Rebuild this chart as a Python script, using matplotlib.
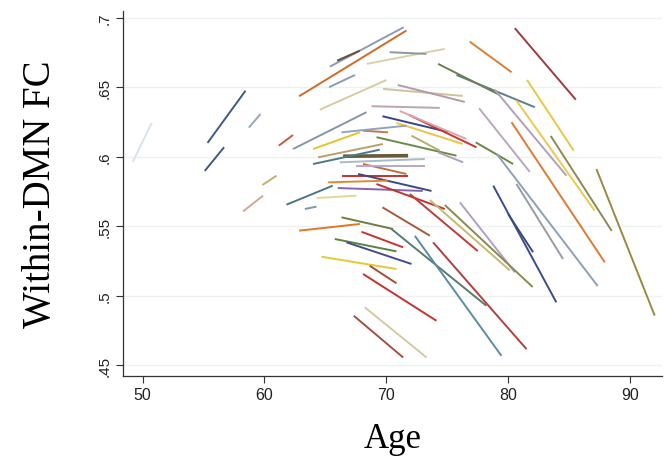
import matplotlib.pyplot as plt
from matplotlib.collections import LineCollection

# each subject: first and last visit (age, within-DMN FC)
age_start = [49.20, 55.34, 55.11, 58.73, 61.19, 59.85, 58.26, 61.82, 65.38, 62.86,
             65.98, 65.32, 68.42, 70.30, 64.56, 69.75, 70.96, 68.80, 62.36, 69.70,
             71.89, 71.12, 64.01, 70.85, 68.11, 66.34, 69.21, 72.09, 64.42, 66.47,
             64.01, 66.20, 68.11, 67.57, 66.34, 67.70, 66.03, 69.21, 65.24, 64.29,
             63.33, 62.86, 66.34, 69.70, 67.98, 70.44, 72.36, 73.86, 65.79, 66.75,
             64.70, 68.66, 68.11, 68.25, 67.35, 80.57, 76.87, 75.78, 74.27, 81.58,
             78.92, 80.71, 77.64, 80.71, 77.36, 80.30, 83.52, 79.09, 87.27, 78.80,
             80.02, 76.06, 73.59, 74.82, 71.95, 74.27]
age_end = [50.76, 58.46, 56.70, 59.69, 62.36, 61.00, 59.90, 65.62, 71.45, 71.67,
           67.84, 67.45, 74.82, 73.32, 70.03, 76.30, 76.46, 74.41, 68.39, 75.07,
           77.42, 76.60, 67.84, 76.30, 70.16, 71.67, 75.78, 74.41, 69.75, 71.81,
           69.48, 73.18, 71.67, 73.18, 71.81, 73.73, 73.01, 74.82, 70.16, 67.57,
           64.29, 67.84, 70.57, 73.59, 71.40, 78.24, 79.47, 81.53, 70.85, 72.09,
           70.85, 70.85, 74.14, 73.32, 71.40, 85.58, 80.30, 82.21, 79.33, 85.41,
           84.81, 87.13, 81.80, 84.53, 80.43, 87.96, 88.53, 87.38, 92.06, 83.98,
           82.07, 80.57, 80.16, 82.04, 77.53, 76.32]
fc_start = [.5963, .6100, .5898, .6210, .6080, .5797, .5607, .5655, .6649, .6436,
            .6692, .6501, .6669, .6753, .6339, .6489, .6517, .6364, .6056, .6292,
            .6301, .6330, .6056, .6244, .6188, .6176, .6141, .6152, .5996, .6004,
            .5948, .5960, .5948, .5936, .5864, .5876, .5775, .5804, .5816, .5703,
            .5624, .5468, .5564, .5636, .5460, .5480, .5431, .5384, .5408, .5384,
            .5280, .5215, .5156, .4916, .4855, .6926, .6829, .6589, .6669, .6553,
            .6483, .6404, .6349, .5804, .6104, .6249, .6150, .6020, .5912, .5792,
            .5588, .5672, .5689, .5653, .5732, .6032]
fc_end = [.6244, .6476, .6069, .6308, .6157, .5864, .5720, .5792, .6933, .6909,
          .6764, .6589, .6777, .6741, .6553, .6438, .6395, .6352, .6321, .6179,
          .6068, .6128, .6176, .6092, .6176, .6224, .6008, .6044, .6092, .6008,
          .6051, .5984, .5876, .5936, .5864, .5754, .5754, .5624, .5828, .5720,
          .5641, .5516, .5480, .5432, .5348, .4927, .4567, .4615, .5319, .5228,
          .5192, .5089, .4819, .4555, .4555, .6411, .6609, .6357, .6445, .6044,
          .5864, .5612, .5891, .5264, .5948, .5240, .5466, .5069, .4856, .4952,
          .5313, .5168, .5182, .5062, .5321, .5960]

colors = ['#d6e4ea', '#3d5a80', '#3d5a80', '#9aa6b4', '#c0603a', '#c8aa70', '#d4a49c', '#4a7686',
          '#8c9cb4', '#d06a28', '#6e4a3c', '#8c9cb4', '#d8d2a8', '#8a9aa4', '#d8cc9c', '#cfc39a',
          '#b49aa8', '#bca4b4', '#8496a8', '#34458a', '#c83434', '#dca4ac', '#e6c42c', '#ecc446',
          '#c6744c', '#90a4bc', '#6a8a48', '#b4b070', '#b8a06a', '#6a5a38', '#4a7a8a', '#a8bcc4',
          '#c07040', '#b8a8cc', '#c83030', '#3a4a7a', '#8464ac', '#c03434', '#e08838', '#e2da94',
          '#7a9aaa', '#e07820', '#6a8040', '#a45a3c', '#c83232', '#5a7a6a', '#5c8ca4', '#b04040',
          '#5e8040', '#404c8c', '#e8c82e', '#a84a3a', '#c43232', '#d2caa0', '#a45040', '#a03a3c',
          '#d8803a', '#5a8090', '#6a8050', '#e8c840', '#b0a0b4', '#ecc84c', '#b8a8bc', '#9a9aa4',
          '#6a8a40', '#e07a30', '#8a8a58', '#8ca0b8', '#9a8a40', '#3a4c8c', '#3a4c7c', '#b0a0c8',
          '#c8b870', '#8a8a50', '#c03a3a', '#b0a0c0']

yticks = [.45, .5, .55, .6, .65, .7]
ytick_labels = ['.45', '.5', '.55', '.6', '.65', '.7']
xticks = [50, 60, 70, 80, 90]

fig = plt.figure(figsize=(6.71, 4.6), dpi=100)
ax = fig.add_axes([0.183, 0.18, 0.804, 0.794])

segs = [[(a0, f0), (a1, f1)] for a0, a1, f0, f1 in zip(age_start, age_end, fc_start, fc_end)]
widths = [1.4] * len(segs)
widths[29] = 2.6
ax.add_collection(LineCollection(segs, colors=colors, linewidths=widths, capstyle='butt'))

ax.set_xlim(48.38, 92.68)
ax.set_ylim(0.442, 0.705)
ax.set_yticks(yticks)
ax.set_yticklabels(ytick_labels, rotation=90, va='center', fontsize=11, family='Liberation Sans')
ax.set_xticks(xticks)
ax.set_xticklabels([str(t) for t in xticks], fontsize=11.5, family='Liberation Sans')
ax.tick_params(length=5, width=0.8, color='#333333', labelcolor='#222222', pad=3)
ax.grid(axis='y', color='#eef1f2', linewidth=1.0)
ax.set_axisbelow(True)
for side in ['top', 'right']:
    ax.spines[side].set_visible(False)
for side in ['left', 'bottom']:
    ax.spines[side].set_color('#333333')
    ax.spines[side].set_linewidth(0.9)

ax.set_ylabel('Within-DMN FC', fontsize=28, family='Liberation Serif', labelpad=28)
ax.set_xlabel('Age', fontsize=25, family='Liberation Serif', labelpad=14)

fig.savefig('out.png', dpi=100)
